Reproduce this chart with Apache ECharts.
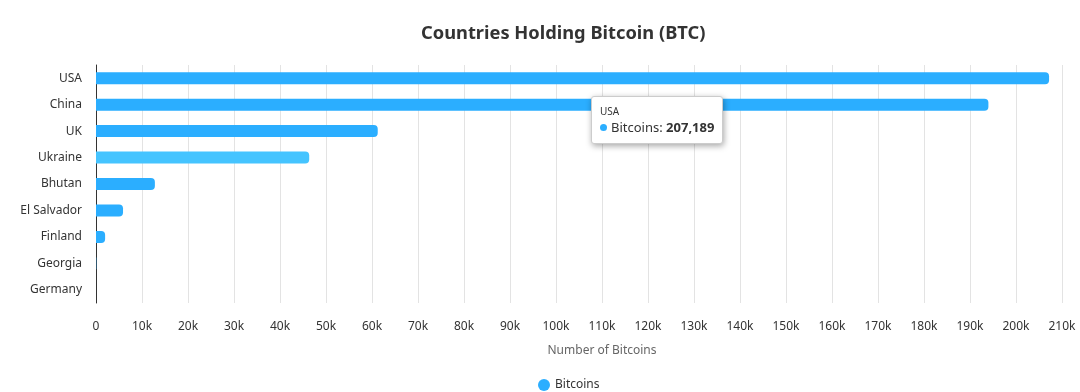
<!DOCTYPE html>
<html><head><meta charset="utf-8">
<script src="https://cdn.jsdelivr.net/npm/echarts@6/dist/echarts.min.js"></script>
<style>html,body{margin:0;padding:0;background:#fff}#c{width:1080px;height:392px}</style>
</head><body><div id="c"></div>
<script>
const countries = ['USA','China','UK','Ukraine','Bhutan','El Salvador','Finland','Georgia','Germany'];
const bitcoins = [207189, 194000, 61245, 46351, 12800, 5875, 1981, 66, 0];
const seriesName = 'Bitcoins';
const chart = echarts.init(document.getElementById('c'));
const FONT = '"Noto Sans", "Open Sans", sans-serif';
chart.setOption({
  animation: false,
  textStyle: {fontFamily: FONT},
  title: {text: 'Countries Holding Bitcoin (BTC)', left: 416, top: 20,
    textStyle: {fontSize: 18.3, fontWeight: 'bold', color: '#333', fontFamily: FONT}},
  grid: {left: 96, right: 18, top: 65, bottom: 89, containLabel: false},
  tooltip: {trigger: 'axis', axisPointer: {type: 'none'}, alwaysShowContent: true,
    position: [591, 96], backgroundColor: '#fff', borderColor: '#ccc', borderWidth: 1,
    padding: [7, 8], extraCssText: 'box-shadow:1px 2px 6px rgba(0,0,0,0.35);border-radius:3px;',
    formatter: function (p) {
      const it = p[0];
      return '<div style="font-size:10px;color:#333;line-height:14px;font-family:' + FONT.replace(/"/g,"'") + '">' + it.name + '</div>' +
        '<div style="font-size:13px;color:#333;line-height:18px;font-family:' + FONT.replace(/"/g,"'") + '">' +
        '<span style="display:inline-block;width:7px;height:7px;border-radius:50%;background:#2baeff;margin-right:4px;vertical-align:1px"></span>' +
        it.seriesName + ': <b>' + it.value.toLocaleString('en-US') + '</b></div>';
    }},
  legend: {top: 374, left: 533, icon: 'circle', itemWidth: 12, itemHeight: 12, itemGap: 8,
    textStyle: {fontSize: 12, color: '#333', fontFamily: FONT}, data: [seriesName]},
  xAxis: {type: 'value', min: 0, max: 210000, interval: 10000,
    name: 'Number of Bitcoins', nameLocation: 'middle', nameGap: 42,
    nameTextStyle: {fontSize: 12, color: '#666', fontFamily: FONT, padding: [0, 0, 0, 46]},
    axisLine: {show: false}, axisTick: {show: false},
    axisLabel: {fontSize: 12, color: '#333', margin: 18, fontFamily: FONT,
      formatter: v => v === 0 ? '0' : (v / 1000) + 'k'},
    splitLine: {show: true, lineStyle: {color: '#e3e3e3', width: 1}}},
  yAxis: {type: 'category', inverse: true, data: countries,
    axisLine: {show: true, lineStyle: {color: '#333', width: 1}},
    axisTick: {show: false},
    axisLabel: {fontSize: 12, color: '#333', margin: 14, fontFamily: FONT}},
  series: [{name: seriesName, type: 'bar', data: bitcoins, barWidth: 12,
    itemStyle: {color: '#2baeff', borderRadius: [0, 4, 4, 0]},
    emphasis: {itemStyle: {color: '#45c4ff'}}}]
});
chart.dispatchAction({type: 'showTip', seriesIndex: 0, dataIndex: 0});
chart.dispatchAction({type: 'downplay', seriesIndex: 0, dataIndex: 0});
chart.dispatchAction({type: 'highlight', seriesIndex: 0, dataIndex: 3});
</script></body></html>
